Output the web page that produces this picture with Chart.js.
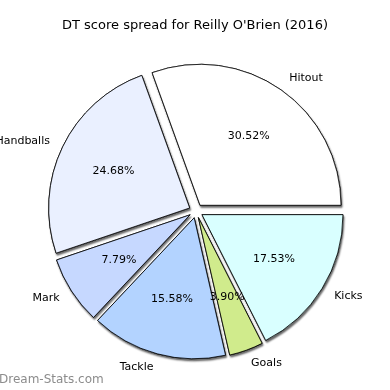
<!DOCTYPE html>
<html>
<head>
<meta charset="utf-8">
<script src="https://cdn.jsdelivr.net/npm/chart.js@4"></script>
<style>
  html, body { margin: 0; padding: 0; background: #fff; }
  canvas { display: block; }
</style>
</head>
<body>
<canvas id="pie" width="390" height="390"></canvas>
<script>
// DT points per stat, listed counter-clockwise from 3 o'clock (as in the source chart)
const categories = ['Hitout', 'Handballs', 'Mark', 'Tackle', 'Goals', 'Kicks'];
const points = [47, 38, 12, 24, 6, 27];
const colours = ['#ffffff', '#eaf0ff', '#c6d8ff', '#b3d3ff', '#d0eb8c', '#d9ffff'];
const title = "DT score spread for Reilly O'Brien (2016)";
const watermark = 'Dream-Stats.com';

// Chart.js goes clockwise, so reverse the order
const labels = categories.slice().reverse();
const values = points.slice().reverse();
const fills = colours.slice().reverse();
const total = values.reduce((a, b) => a + b, 0);

const EXPLODE = 7;       // outward shift of each slice, px
const FONT = 'DejaVu Sans';

// draws exploded slices with a shadow, then the labels
const explodedPie = {
  id: 'explodedPie',
  beforeDatasetsDraw(chart) {
    const ctx = chart.ctx;
    const arcs = chart.getDatasetMeta(0).data;
    const drawAll = () => {
      arcs.forEach(arc => {
        const mid = (arc.startAngle + arc.endAngle) / 2;
        ctx.save();
        ctx.translate(Math.cos(mid) * EXPLODE, Math.sin(mid) * EXPLODE);
        arc.draw(ctx);
        ctx.restore();
      });
    };
    // shadow pass
    ctx.save();
    ctx.shadowColor = 'rgba(0,0,0,0.6)';
    ctx.shadowOffsetX = 1;
    ctx.shadowOffsetY = 2;
    ctx.shadowBlur = 2;
    drawAll();
    ctx.restore();
    // clean pass on top
    drawAll();
    return false;
  },
  afterDraw(chart) {
    const ctx = chart.ctx;
    const arcs = chart.getDatasetMeta(0).data;
    ctx.save();
    ctx.fillStyle = '#000';
    ctx.font = '11px "' + FONT + '"';
    arcs.forEach((arc, i) => {
      const mid = (arc.startAngle + arc.endAngle) / 2;
      const c = Math.cos(mid), s = Math.sin(mid);
      const cx = arc.x + c * EXPLODE, cy = arc.y + s * EXPLODE;
      const r = arc.outerRadius;
      // outer label
      ctx.textBaseline = 'middle';
      ctx.textAlign = c > 0 ? 'left' : 'right';
      ctx.fillText(labels[i], cx + c * r * 1.1, cy + s * r * 1.1);
      // percentage
      ctx.textAlign = 'center';
      const pct = (values[i] / total * 100).toFixed(2) + '%';
      ctx.fillText(pct, cx + c * r * 0.6, cy + s * r * 0.6);
    });
    // title
    ctx.font = '13px "' + FONT + '"';
    ctx.textAlign = 'center';
    ctx.fillText(title, 195, 26);
    // watermark
    ctx.fillStyle = '#8c8c8c';
    ctx.font = '12px "' + FONT + '"';
    ctx.textAlign = 'left';
    ctx.fillText(watermark, -1, 380);
    ctx.restore();
  }
};

new Chart(document.getElementById('pie').getContext('2d'), {
  type: 'pie',
  data: {
    labels: labels,
    datasets: [{
      data: values,
      backgroundColor: fills,
      borderColor: '#000',
      borderWidth: 0.8,
      radius: 141
    }]
  },
  options: {
    responsive: false,
    animation: false,
    rotation: 90,
    layout: { padding: { top: 42, bottom: 10, left: 12, right: 10 } },
    plugins: {
      legend: { display: false },
      tooltip: { enabled: false }
    }
  },
  plugins: [explodedPie]
});
</script>
</body>
</html>
